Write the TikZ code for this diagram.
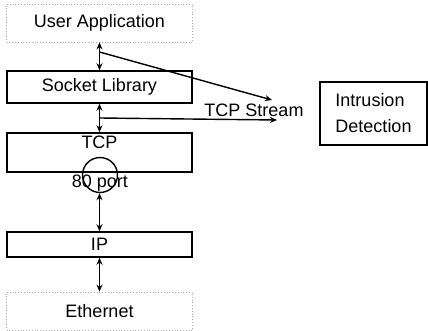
\documentclass[tikz,border=0pt]{standalone}
\usepackage{fontspec}
\setmainfont{Liberation Sans}
\usetikzlibrary{arrows.meta}
\tikzset{layer/.style={draw,line width=1.5pt,minimum width=185pt,inner sep=2pt},
         faint/.style={draw=gray!70,dotted,line width=0.8pt,minimum width=186pt,minimum height=38pt},
         both/.style={{Stealth[length=7pt,width=6pt]}-{Stealth[length=7pt,width=6pt]},line width=1.5pt},
         feed/.style={-{Stealth[length=7pt,width=6pt]},line width=1.4pt},
         x=1pt,y=-1pt}

\begin{document}
\begin{tikzpicture}[font=\fontsize{18}{26}\selectfont]
  \useasboundingbox (0,0) rectangle (428,331);
  \node[faint] (app) at (99.5,23) {User Application};
  \node[layer,minimum height=32pt] (socket) at (99.5,87) {Socket Library};
  \node[layer,inner ysep=4pt,text height=12pt,text depth=19pt] (tcp) at (99.5,152.5) {TCP};
  \node[draw,circle,line width=1.4pt,minimum size=35pt] (port) at (100,175) {};
  \node (portlabel) at (100,183) {80 port};
  \node[layer,minimum height=25pt] (ip) at (99.5,244.5) {IP};
  \node[faint] (eth) at (99.5,311) {Ethernet};
  \node[draw,line width=1.5pt,minimum width=107pt,minimum height=63pt,align=left] (ids) at (373.5,113.5) {Intrusion\\Detection};
  \node (stream) at (254,110) {TCP Stream};
  \coordinate (tapA) at (99.5,52);
  \coordinate (tapB) at (99.5,118);
  \coordinate (endA) at (272,100);
  \coordinate (endB) at (277,120);
  \draw[both] (app.south) -- (socket.north);
  \draw[both] (socket.south) -- (tcp.north);
  \draw[both] (port.south -| ip.north) -- (ip.north);
  \draw[both] (ip.south) -- (eth.north);
  \draw[feed] (tapA) -- (endA);
  \draw[feed] (tapB) -- (endB);
\end{tikzpicture}
\end{document}
